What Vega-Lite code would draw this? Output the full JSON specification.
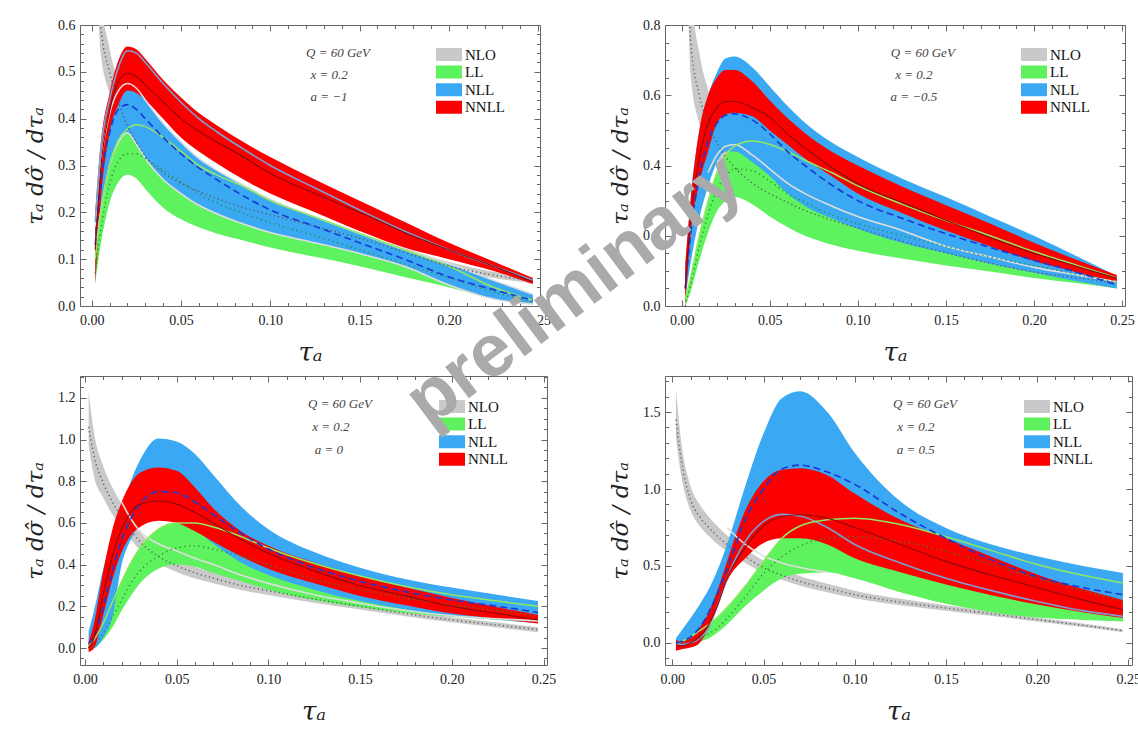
{
"$schema": "https://vega.github.io/schema/vega-lite/v6.json",
"background": "white",
"padding": {"left": 24, "top": 17, "right": 5, "bottom": 5},
"config": {"view": {"stroke": "#666"}, "scale": {"nice": false, "zero": false}, "axis": {"grid": false, "domain": false, "labelFont": "Liberation Serif", "labelFontSize": 14, "labelColor": "#222", "tickColor": "#666", "titleFont": "DejaVu Serif", "titleFontStyle": "italic", "titleFontWeight": "normal", "titleColor": "#222"}},
"datasets": {
"p1": [
{"x":0.002,"nlo":0.9,"nlo_lo":0.8,"nlo_hi":1.0,"ll":0.07,"ll_lo":0.05,"ll_hi":0.1,"nll":0.13,"nll_lo":0.12,"nll_hi":0.17,"nnll":0.12,"nnll_lo":0.045,"nnll_hi":0.2,"g1":0.17,"g2":0.12,"sb":0.18},
{"x":0.005,"nlo":0.6,"nlo_lo":0.54,"nlo_hi":0.67,"ll":0.16,"ll_lo":0.13,"ll_hi":0.2,"nll":0.26,"nll_lo":0.2,"nll_hi":0.3,"nnll":0.29,"nnll_lo":0.22,"nnll_hi":0.345,"g1":0.3,"g2":0.2,"sb":0.33},
{"x":0.01,"nlo":0.5,"nlo_lo":0.455,"nlo_hi":0.55,"ll":0.26,"ll_lo":0.22,"ll_hi":0.3,"nll":0.37,"nll_lo":0.3,"nll_hi":0.41,"nnll":0.415,"nnll_lo":0.37,"nnll_hi":0.455,"g1":0.41,"g2":0.3,"sb":0.44},
{"x":0.015,"nlo":0.435,"nlo_lo":0.4,"nlo_hi":0.475,"ll":0.31,"ll_lo":0.265,"ll_hi":0.355,"nll":0.42,"nll_lo":0.35,"nll_hi":0.46,"nnll":0.48,"nnll_lo":0.43,"nnll_hi":0.525,"g1":0.46,"g2":0.35,"sb":0.51},
{"x":0.02,"nlo":0.385,"nlo_lo":0.355,"nlo_hi":0.415,"ll":0.325,"ll_lo":0.28,"ll_hi":0.378,"nll":0.43,"nll_lo":0.37,"nll_hi":0.475,"nnll":0.497,"nnll_lo":0.46,"nnll_hi":0.554,"g1":0.475,"g2":0.37,"sb":0.545},
{"x":0.025,"nlo":0.35,"nlo_lo":0.325,"nlo_hi":0.378,"ll":0.325,"ll_lo":0.272,"ll_hi":0.387,"nll":0.42,"nll_lo":0.345,"nll_hi":0.465,"nnll":0.49,"nnll_lo":0.455,"nnll_hi":0.548,"g1":0.465,"g2":0.345,"sb":0.54},
{"x":0.03,"nlo":0.32,"nlo_lo":0.3,"nlo_hi":0.345,"ll":0.315,"ll_lo":0.25,"ll_hi":0.383,"nll":0.4,"nll_lo":0.315,"nll_hi":0.44,"nnll":0.472,"nnll_lo":0.44,"nnll_hi":0.528,"g1":0.44,"g2":0.315,"sb":0.52},
{"x":0.04,"nlo":0.285,"nlo_lo":0.268,"nlo_hi":0.305,"ll":0.29,"ll_lo":0.21,"ll_hi":0.36,"nll":0.36,"nll_lo":0.27,"nll_hi":0.39,"nnll":0.436,"nnll_lo":0.4,"nnll_hi":0.483,"g1":0.39,"g2":0.27,"sb":0.475},
{"x":0.05,"nlo":0.262,"nlo_lo":0.248,"nlo_hi":0.28,"ll":0.265,"ll_lo":0.185,"ll_hi":0.33,"nll":0.325,"nll_lo":0.24,"nll_hi":0.35,"nnll":0.4,"nnll_lo":0.36,"nnll_hi":0.445,"g1":0.35,"g2":0.24,"sb":0.435},
{"x":0.06,"nlo":0.245,"nlo_lo":0.232,"nlo_hi":0.26,"ll":0.24,"ll_lo":0.168,"ll_hi":0.3,"nll":0.295,"nll_lo":0.215,"nll_hi":0.315,"nnll":0.373,"nnll_lo":0.33,"nnll_hi":0.412,"g1":0.315,"g2":0.215,"sb":0.4},
{"x":0.07,"nlo":0.23,"nlo_lo":0.218,"nlo_hi":0.244,"ll":0.22,"ll_lo":0.155,"ll_hi":0.28,"nll":0.27,"nll_lo":0.197,"nll_hi":0.29,"nnll":0.35,"nnll_lo":0.305,"nnll_hi":0.386,"g1":0.29,"g2":0.197,"sb":0.372},
{"x":0.085,"nlo":0.21,"nlo_lo":0.2,"nlo_hi":0.222,"ll":0.198,"ll_lo":0.14,"ll_hi":0.255,"nll":0.235,"nll_lo":0.175,"nll_hi":0.258,"nnll":0.318,"nnll_lo":0.27,"nnll_hi":0.35,"g1":0.258,"g2":0.175,"sb":0.335},
{"x":0.1,"nlo":0.195,"nlo_lo":0.186,"nlo_hi":0.206,"ll":0.178,"ll_lo":0.125,"ll_hi":0.225,"nll":0.205,"nll_lo":0.157,"nll_hi":0.228,"nnll":0.283,"nnll_lo":0.24,"nnll_hi":0.318,"g1":0.228,"g2":0.157,"sb":0.3},
{"x":0.125,"nlo":0.17,"nlo_lo":0.162,"nlo_hi":0.18,"ll":0.15,"ll_lo":0.105,"ll_hi":0.19,"nll":0.17,"nll_lo":0.135,"nll_hi":0.19,"nnll":0.24,"nnll_lo":0.2,"nnll_hi":0.27,"g1":0.19,"g2":0.135,"sb":0.252},
{"x":0.15,"nlo":0.145,"nlo_lo":0.138,"nlo_hi":0.154,"ll":0.12,"ll_lo":0.085,"ll_hi":0.155,"nll":0.135,"nll_lo":0.112,"nll_hi":0.155,"nnll":0.2,"nnll_lo":0.16,"nnll_hi":0.225,"g1":0.155,"g2":0.112,"sb":0.205},
{"x":0.175,"nlo":0.115,"nlo_lo":0.108,"nlo_hi":0.124,"ll":0.09,"ll_lo":0.062,"ll_hi":0.12,"nll":0.1,"nll_lo":0.085,"nll_hi":0.12,"nnll":0.157,"nnll_lo":0.125,"nnll_hi":0.18,"g1":0.12,"g2":0.085,"sb":0.16},
{"x":0.2,"nlo":0.085,"nlo_lo":0.078,"nlo_hi":0.094,"ll":0.06,"ll_lo":0.04,"ll_hi":0.085,"nll":0.062,"nll_lo":0.045,"nll_hi":0.09,"nnll":0.12,"nnll_lo":0.1,"nnll_hi":0.135,"g1":0.09,"g2":0.045,"sb":0.12},
{"x":0.225,"nlo":0.066,"nlo_lo":0.06,"nlo_hi":0.073,"ll":0.03,"ll_lo":0.015,"ll_hi":0.04,"nll":0.035,"nll_lo":0.015,"nll_hi":0.055,"nnll":0.085,"nnll_lo":0.075,"nnll_hi":0.095,"g1":0.055,"g2":0.015,"sb":0.085},
{"x":0.247,"nlo":0.054,"nlo_lo":0.048,"nlo_hi":0.061,"ll":0.008,"ll_lo":0.004,"ll_hi":0.012,"nll":0.012,"nll_lo":0.004,"nll_hi":0.025,"nnll":0.052,"nnll_lo":0.047,"nnll_hi":0.06,"g1":0.025,"g2":0.004,"sb":0.055}
],
"p2": [
{"x":0.002,"nlo":1.5,"nlo_lo":1.3,"nlo_hi":1.75,"ll":0.0,"ll_lo":0.0,"ll_hi":0.02,"nll":0.05,"nll_lo":0.02,"nll_hi":0.1,"nnll":0.05,"nnll_lo":0.0,"nnll_hi":0.12},
{"x":0.005,"nlo":0.76,"nlo_lo":0.66,"nlo_hi":0.92,"ll":0.06,"ll_lo":0.04,"ll_hi":0.08,"nll":0.2,"nll_lo":0.12,"nll_hi":0.3,"nnll":0.25,"nnll_lo":0.2,"nnll_hi":0.3},
{"x":0.01,"nlo":0.6,"nlo_lo":0.52,"nlo_hi":0.72,"ll":0.17,"ll_lo":0.13,"ll_hi":0.2,"nll":0.37,"nll_lo":0.25,"nll_hi":0.5,"nnll":0.42,"nnll_lo":0.35,"nnll_hi":0.5},
{"x":0.015,"nlo":0.52,"nlo_lo":0.455,"nlo_hi":0.615,"ll":0.26,"ll_lo":0.21,"ll_hi":0.3,"nll":0.47,"nll_lo":0.34,"nll_hi":0.6,"nnll":0.52,"nnll_lo":0.44,"nnll_hi":0.6,"g1":0.38},
{"x":0.02,"nlo":0.465,"nlo_lo":0.42,"nlo_hi":0.53,"ll":0.33,"ll_lo":0.27,"ll_hi":0.38,"nll":0.52,"nll_lo":0.41,"nll_hi":0.665,"nnll":0.565,"nnll_lo":0.52,"nnll_hi":0.65,"g1":0.43},
{"x":0.025,"nlo":0.425,"nlo_lo":0.39,"nlo_hi":0.47,"ll":0.37,"ll_lo":0.3,"ll_hi":0.43,"nll":0.543,"nll_lo":0.44,"nll_hi":0.705,"nnll":0.582,"nnll_lo":0.545,"nnll_hi":0.672,"g1":0.455},
{"x":0.03,"nlo":0.395,"nlo_lo":0.365,"nlo_hi":0.43,"ll":0.39,"ll_lo":0.31,"ll_hi":0.455,"nll":0.547,"nll_lo":0.44,"nll_hi":0.71,"nnll":0.583,"nnll_lo":0.55,"nnll_hi":0.672,"g1":0.46},
{"x":0.04,"nlo":0.35,"nlo_lo":0.325,"nlo_hi":0.38,"ll":0.385,"ll_lo":0.29,"ll_hi":0.47,"nll":0.53,"nll_lo":0.41,"nll_hi":0.68,"nnll":0.565,"nnll_lo":0.54,"nnll_hi":0.64,"g1":0.43},
{"x":0.05,"nlo":0.32,"nlo_lo":0.3,"nlo_hi":0.345,"ll":0.355,"ll_lo":0.255,"ll_hi":0.46,"nll":0.49,"nll_lo":0.37,"nll_hi":0.625,"nnll":0.537,"nnll_lo":0.5,"nnll_hi":0.585,"g1":0.39},
{"x":0.06,"nlo":0.295,"nlo_lo":0.277,"nlo_hi":0.317,"ll":0.32,"ll_lo":0.225,"ll_hi":0.44,"nll":0.44,"nll_lo":0.32,"nll_hi":0.57,"nnll":0.49,"nnll_lo":0.46,"nnll_hi":0.535,"g1":0.35},
{"x":0.07,"nlo":0.272,"nlo_lo":0.256,"nlo_hi":0.292,"ll":0.295,"ll_lo":0.2,"ll_hi":0.415,"nll":0.4,"nll_lo":0.285,"nll_hi":0.522,"nnll":0.45,"nnll_lo":0.42,"nnll_hi":0.492,"g1":0.32},
{"x":0.085,"nlo":0.245,"nlo_lo":0.231,"nlo_hi":0.262,"ll":0.26,"ll_lo":0.175,"ll_hi":0.38,"nll":0.345,"nll_lo":0.25,"nll_hi":0.466,"nnll":0.395,"nnll_lo":0.37,"nnll_hi":0.44,"g1":0.285},
{"x":0.1,"nlo":0.222,"nlo_lo":0.21,"nlo_hi":0.236,"ll":0.235,"ll_lo":0.157,"ll_hi":0.342,"nll":0.3,"nll_lo":0.22,"nll_hi":0.424,"nnll":0.348,"nnll_lo":0.32,"nnll_hi":0.4,"g1":0.255},
{"x":0.125,"nlo":0.185,"nlo_lo":0.175,"nlo_hi":0.197,"ll":0.2,"ll_lo":0.135,"ll_hi":0.29,"nll":0.25,"nll_lo":0.18,"nll_hi":0.363,"nnll":0.295,"nnll_lo":0.265,"nnll_hi":0.34,"g1":0.215},
{"x":0.15,"nlo":0.152,"nlo_lo":0.143,"nlo_hi":0.162,"ll":0.17,"ll_lo":0.115,"ll_hi":0.243,"nll":0.206,"nll_lo":0.15,"nll_hi":0.31,"nnll":0.244,"nnll_lo":0.215,"nnll_hi":0.287,"g1":0.17},
{"x":0.175,"nlo":0.122,"nlo_lo":0.114,"nlo_hi":0.131,"ll":0.14,"ll_lo":0.098,"ll_hi":0.2,"nll":0.167,"nll_lo":0.12,"nll_hi":0.255,"nnll":0.195,"nnll_lo":0.17,"nnll_hi":0.235,"g1":0.14},
{"x":0.2,"nlo":0.097,"nlo_lo":0.09,"nlo_hi":0.105,"ll":0.115,"ll_lo":0.08,"ll_hi":0.155,"nll":0.13,"nll_lo":0.095,"nll_hi":0.2,"nnll":0.15,"nnll_lo":0.128,"nnll_hi":0.18,"g1":0.11},
{"x":0.225,"nlo":0.08,"nlo_lo":0.073,"nlo_hi":0.087,"ll":0.09,"ll_lo":0.065,"ll_hi":0.115,"nll":0.095,"nll_lo":0.07,"nll_hi":0.14,"nnll":0.112,"nnll_lo":0.095,"nnll_hi":0.13,"g1":0.088},
{"x":0.247,"nlo":0.065,"nlo_lo":0.058,"nlo_hi":0.072,"ll":0.068,"ll_lo":0.05,"ll_hi":0.08,"nll":0.06,"nll_lo":0.05,"nll_hi":0.085,"nnll":0.079,"nnll_lo":0.068,"nnll_hi":0.088,"g1":0.069}
],
"p3": [
{"x":0.002,"nlo":1.06,"nlo_lo":0.97,"nlo_hi":1.23,"ll":0.0,"ll_lo":-0.01,"ll_hi":0.01,"nll":0.02,"nll_lo":0.0,"nll_hi":0.08,"nnll":0.0,"nnll_lo":-0.02,"nnll_hi":0.03},
{"x":0.005,"nlo":0.92,"nlo_lo":0.82,"nlo_hi":1.03,"ll":0.01,"ll_lo":0.0,"ll_hi":0.04,"nll":0.06,"nll_lo":0.0,"nll_hi":0.18,"nnll":0.05,"nnll_lo":0.0,"nnll_hi":0.12},
{"x":0.01,"nlo":0.79,"nlo_lo":0.72,"nlo_hi":0.87,"ll":0.07,"ll_lo":0.04,"ll_hi":0.12,"nll":0.2,"nll_lo":0.05,"nll_hi":0.38,"nnll":0.26,"nnll_lo":0.16,"nnll_hi":0.37},
{"x":0.015,"nlo":0.7,"nlo_lo":0.64,"nlo_hi":0.77,"ll":0.15,"ll_lo":0.1,"ll_hi":0.22,"nll":0.37,"nll_lo":0.15,"nll_hi":0.53,"nnll":0.44,"nnll_lo":0.33,"nnll_hi":0.57},
{"x":0.02,"nlo":0.63,"nlo_lo":0.58,"nlo_hi":0.69,"ll":0.23,"ll_lo":0.18,"ll_hi":0.32,"nll":0.52,"nll_lo":0.4,"nll_hi":0.67,"nnll":0.57,"nnll_lo":0.46,"nnll_hi":0.7,"g1":0.7},
{"x":0.025,"nlo":0.565,"nlo_lo":0.52,"nlo_hi":0.615,"ll":0.31,"ll_lo":0.25,"ll_hi":0.41,"nll":0.62,"nll_lo":0.52,"nll_hi":0.8,"nnll":0.65,"nnll_lo":0.54,"nnll_hi":0.79,"g1":0.62},
{"x":0.03,"nlo":0.51,"nlo_lo":0.47,"nlo_hi":0.555,"ll":0.37,"ll_lo":0.31,"ll_hi":0.48,"nll":0.69,"nll_lo":0.59,"nll_hi":0.9,"nnll":0.69,"nnll_lo":0.58,"nnll_hi":0.84,"g1":0.56},
{"x":0.04,"nlo":0.44,"nlo_lo":0.405,"nlo_hi":0.48,"ll":0.44,"ll_lo":0.38,"ll_hi":0.57,"nll":0.75,"nll_lo":0.63,"nll_hi":1.005,"nnll":0.705,"nnll_lo":0.61,"nnll_hi":0.866,"g1":0.5},
{"x":0.05,"nlo":0.395,"nlo_lo":0.365,"nlo_hi":0.43,"ll":0.48,"ll_lo":0.4,"ll_hi":0.6,"nll":0.745,"nll_lo":0.615,"nll_hi":0.99,"nnll":0.69,"nnll_lo":0.6,"nnll_hi":0.85,"g1":0.465},
{"x":0.06,"nlo":0.36,"nlo_lo":0.333,"nlo_hi":0.39,"ll":0.49,"ll_lo":0.39,"ll_hi":0.6,"nll":0.7,"nll_lo":0.57,"nll_hi":0.93,"nnll":0.65,"nnll_lo":0.56,"nnll_hi":0.77,"g1":0.43},
{"x":0.07,"nlo":0.335,"nlo_lo":0.31,"nlo_hi":0.362,"ll":0.475,"ll_lo":0.36,"ll_hi":0.58,"nll":0.64,"nll_lo":0.5,"nll_hi":0.83,"nnll":0.6,"nnll_lo":0.51,"nnll_hi":0.67,"g1":0.4},
{"x":0.085,"nlo":0.3,"nlo_lo":0.278,"nlo_hi":0.325,"ll":0.44,"ll_lo":0.32,"ll_hi":0.535,"nll":0.55,"nll_lo":0.41,"nll_hi":0.68,"nnll":0.52,"nnll_lo":0.44,"nnll_hi":0.56,"g1":0.35},
{"x":0.1,"nlo":0.275,"nlo_lo":0.254,"nlo_hi":0.297,"ll":0.4,"ll_lo":0.28,"ll_hi":0.48,"nll":0.475,"nll_lo":0.35,"nll_hi":0.57,"nnll":0.455,"nnll_lo":0.38,"nnll_hi":0.49,"g1":0.31},
{"x":0.125,"nlo":0.235,"nlo_lo":0.217,"nlo_hi":0.255,"ll":0.33,"ll_lo":0.23,"ll_hi":0.405,"nll":0.385,"nll_lo":0.28,"nll_hi":0.46,"nnll":0.37,"nnll_lo":0.31,"nnll_hi":0.41,"g1":0.255},
{"x":0.15,"nlo":0.2,"nlo_lo":0.185,"nlo_hi":0.218,"ll":0.28,"ll_lo":0.195,"ll_hi":0.345,"nll":0.32,"nll_lo":0.225,"nll_hi":0.385,"nnll":0.3,"nnll_lo":0.25,"nnll_hi":0.345,"g1":0.215},
{"x":0.175,"nlo":0.165,"nlo_lo":0.152,"nlo_hi":0.18,"ll":0.24,"ll_lo":0.168,"ll_hi":0.295,"nll":0.27,"nll_lo":0.185,"nll_hi":0.33,"nnll":0.25,"nnll_lo":0.205,"nnll_hi":0.29,"g1":0.18},
{"x":0.2,"nlo":0.135,"nlo_lo":0.123,"nlo_hi":0.148,"ll":0.205,"ll_lo":0.15,"ll_hi":0.255,"nll":0.23,"nll_lo":0.155,"nll_hi":0.29,"nnll":0.2,"nnll_lo":0.165,"nnll_hi":0.24,"g1":0.155},
{"x":0.225,"nlo":0.11,"nlo_lo":0.098,"nlo_hi":0.122,"ll":0.18,"ll_lo":0.135,"ll_hi":0.225,"nll":0.2,"nll_lo":0.135,"nll_hi":0.255,"nnll":0.165,"nnll_lo":0.14,"nnll_hi":0.195,"g1":0.14},
{"x":0.247,"nlo":0.088,"nlo_lo":0.075,"nlo_hi":0.1,"ll":0.155,"ll_lo":0.12,"ll_hi":0.2,"nll":0.17,"nll_lo":0.12,"nll_hi":0.225,"nnll":0.135,"nnll_lo":0.118,"nnll_hi":0.16,"g1":0.13}
],
"p4": [
{"x":0.002,"nlo":1.45,"nlo_lo":1.33,"nlo_hi":1.65,"ll":0.0,"ll_lo":0.0,"ll_hi":0.0,"nll":0.0,"nll_lo":-0.01,"nll_hi":0.03,"nnll":-0.02,"nnll_lo":-0.05,"nnll_hi":0.02,"sb":0.0},
{"x":0.005,"nlo":1.18,"nlo_lo":1.08,"nlo_hi":1.3,"ll":0.0,"ll_lo":0.0,"ll_hi":0.01,"nll":0.01,"nll_lo":0.0,"nll_hi":0.08,"nnll":-0.02,"nnll_lo":-0.04,"nnll_hi":0.01,"sb":-0.01},
{"x":0.01,"nlo":0.93,"nlo_lo":0.86,"nlo_hi":1.02,"ll":0.01,"ll_lo":0.0,"ll_hi":0.04,"nll":0.04,"nll_lo":0.02,"nll_hi":0.16,"nnll":0.0,"nnll_lo":-0.03,"nnll_hi":0.03,"sb":0.0},
{"x":0.015,"nlo":0.82,"nlo_lo":0.76,"nlo_hi":0.9,"ll":0.03,"ll_lo":0.01,"ll_hi":0.08,"nll":0.1,"nll_lo":0.06,"nll_hi":0.25,"nnll":0.04,"nnll_lo":0.0,"nnll_hi":0.1,"sb":0.03},
{"x":0.02,"nlo":0.75,"nlo_lo":0.695,"nlo_hi":0.82,"ll":0.06,"ll_lo":0.03,"ll_hi":0.12,"nll":0.2,"nll_lo":0.13,"nll_hi":0.35,"nnll":0.12,"nnll_lo":0.1,"nnll_hi":0.2,"sb":0.1},
{"x":0.025,"nlo":0.69,"nlo_lo":0.64,"nlo_hi":0.755,"ll":0.1,"ll_lo":0.07,"ll_hi":0.17,"nll":0.33,"nll_lo":0.27,"nll_hi":0.48,"nnll":0.25,"nnll_lo":0.25,"nnll_hi":0.35,"sb":0.25},
{"x":0.03,"nlo":0.64,"nlo_lo":0.595,"nlo_hi":0.7,"ll":0.16,"ll_lo":0.12,"ll_hi":0.23,"nll":0.48,"nll_lo":0.42,"nll_hi":0.64,"nnll":0.42,"nnll_lo":0.4,"nnll_hi":0.53,"g1":0.75,"sb":0.42},
{"x":0.04,"nlo":0.56,"nlo_lo":0.52,"nlo_hi":0.61,"ll":0.3,"ll_lo":0.24,"ll_hi":0.37,"nll":0.8,"nll_lo":0.56,"nll_hi":1.02,"nnll":0.62,"nnll_lo":0.55,"nnll_hi":0.86,"g1":0.64,"sb":0.66},
{"x":0.05,"nlo":0.49,"nlo_lo":0.455,"nlo_hi":0.535,"ll":0.45,"ll_lo":0.34,"ll_hi":0.53,"nll":1.0,"nll_lo":0.66,"nll_hi":1.36,"nnll":0.76,"nnll_lo":0.65,"nnll_hi":1.05,"g1":0.565,"sb":0.79},
{"x":0.06,"nlo":0.44,"nlo_lo":0.41,"nlo_hi":0.48,"ll":0.56,"ll_lo":0.42,"ll_hi":0.68,"nll":1.13,"nll_lo":0.69,"nll_hi":1.59,"nnll":0.82,"nnll_lo":0.68,"nnll_hi":1.125,"g1":0.52,"sb":0.835},
{"x":0.07,"nlo":0.4,"nlo_lo":0.372,"nlo_hi":0.435,"ll":0.63,"ll_lo":0.45,"ll_hi":0.76,"nll":1.155,"nll_lo":0.69,"nll_hi":1.635,"nnll":0.833,"nnll_lo":0.68,"nnll_hi":1.135,"g1":0.49,"sb":0.825},
{"x":0.085,"nlo":0.355,"nlo_lo":0.33,"nlo_hi":0.385,"ll":0.68,"ll_lo":0.46,"ll_hi":0.8,"nll":1.11,"nll_lo":0.65,"nll_hi":1.5,"nnll":0.81,"nnll_lo":0.64,"nnll_hi":1.09,"g1":0.46,"sb":0.75},
{"x":0.1,"nlo":0.314,"nlo_lo":0.29,"nlo_hi":0.34,"ll":0.69,"ll_lo":0.42,"ll_hi":0.81,"nll":1.03,"nll_lo":0.57,"nll_hi":1.235,"nnll":0.75,"nnll_lo":0.55,"nnll_hi":0.97,"sb":0.64},
{"x":0.125,"nlo":0.265,"nlo_lo":0.245,"nlo_hi":0.287,"ll":0.66,"ll_lo":0.33,"ll_hi":0.77,"nll":0.84,"nll_lo":0.47,"nll_hi":0.92,"nnll":0.64,"nnll_lo":0.46,"nnll_hi":0.8,"sb":0.52},
{"x":0.15,"nlo":0.227,"nlo_lo":0.21,"nlo_hi":0.245,"ll":0.595,"ll_lo":0.255,"ll_hi":0.69,"nll":0.68,"nll_lo":0.39,"nll_hi":0.747,"nnll":0.53,"nnll_lo":0.38,"nnll_hi":0.68,"sb":0.42},
{"x":0.175,"nlo":0.19,"nlo_lo":0.175,"nlo_hi":0.205,"ll":0.51,"ll_lo":0.2,"ll_hi":0.6,"nll":0.54,"nll_lo":0.33,"nll_hi":0.64,"nnll":0.44,"nnll_lo":0.31,"nnll_hi":0.56,"sb":0.34},
{"x":0.2,"nlo":0.152,"nlo_lo":0.14,"nlo_hi":0.165,"ll":0.42,"ll_lo":0.165,"ll_hi":0.51,"nll":0.43,"nll_lo":0.27,"nll_hi":0.563,"nnll":0.36,"nnll_lo":0.25,"nnll_hi":0.445,"sb":0.27},
{"x":0.225,"nlo":0.115,"nlo_lo":0.104,"nlo_hi":0.126,"ll":0.34,"ll_lo":0.15,"ll_hi":0.44,"nll":0.36,"nll_lo":0.22,"nll_hi":0.5,"nnll":0.28,"nnll_lo":0.2,"nnll_hi":0.35,"sb":0.21},
{"x":0.247,"nlo":0.08,"nlo_lo":0.07,"nlo_hi":0.09,"ll":0.27,"ll_lo":0.14,"ll_hi":0.39,"nll":0.314,"nll_lo":0.19,"nll_hi":0.455,"nnll":0.216,"nnll_lo":0.162,"nnll_hi":0.28,"sb":0.173}
]
},
"columns": 2,
"bounds": "flush",
"align": "each",
"spacing": {"row": 70, "column": 118},
"resolve": {"scale": {"color": "independent"}, "legend": {"color": "independent"}},
"concat": [
  {"width": 460, "height": 281, "data": {"name": "p1"},
   "resolve": {"axis": {"x": "independent", "y": "independent"}},
   "layer": [
    {"layer": [
     {"mark": {"type": "area", "interpolate": "monotone", "clip": true, "opacity": 1},
      "encoding": {"x": {"field": "x", "type": "quantitative", "scale": {"domain": [-0.00655, 0.251], "nice": false}, "axis": {"orient": "bottom", "values": [0, 0.05, 0.1, 0.15, 0.2, 0.25], "format": ".2f", "ticks": false, "labelPadding": 7, "labelFlush": false, "labelOverlap": false, "title": "τₐ", "titleFontSize": 26, "titlePadding": 12}},
       "y": {"field": "nlo_lo", "type": "quantitative", "scale": {"domain": [0, 0.6], "nice": false}, "axis": {"orient": "left", "values": [0, 0.1, 0.2, 0.3, 0.4, 0.5, 0.6], "format": ".1f", "ticks": false, "labelPadding": 5, "labelFlush": false, "labelOverlap": false, "title": "τₐ dσ̂ / dτₐ", "titleFontSize": 23, "titlePadding": 10}},
       "y2": {"field": "nlo_hi"},
       "color": {"datum": "NLO", "type": "nominal", "scale": {"domain": ["NLO", "LL", "NLL", "NNLL"], "range": ["#c9c9c9", "#5ef25e", "#3aa8f2", "#fa0000"]}, "legend": {"title": null, "orient": "none", "legendX": 356, "legendY": 22, "symbolType": "M-1,-0.5H1V0.5H-1Z", "symbolSize": 676, "symbolStrokeWidth": 0, "symbolOpacity": 1, "clipHeight": 15, "rowPadding": 1.6, "labelFont": "Liberation Serif", "labelFontSize": 15, "labelColor": "#111", "labelOffset": 3, "padding": 0}}}},
     {"mark": {"type": "area", "interpolate": "monotone", "clip": true, "opacity": 1}, "encoding": {"x": {"field": "x", "type": "quantitative"}, "y": {"field": "ll_lo", "type": "quantitative"}, "y2": {"field": "ll_hi"}, "color": {"datum": "LL", "type": "nominal"}}},
     {"mark": {"type": "area", "interpolate": "monotone", "clip": true, "opacity": 1}, "encoding": {"x": {"field": "x", "type": "quantitative"}, "y": {"field": "nll_lo", "type": "quantitative"}, "y2": {"field": "nll_hi"}, "color": {"datum": "NLL", "type": "nominal"}}},
     {"mark": {"type": "area", "interpolate": "monotone", "clip": true, "opacity": 1}, "encoding": {"x": {"field": "x", "type": "quantitative"}, "y": {"field": "nnll_lo", "type": "quantitative"}, "y2": {"field": "nnll_hi"}, "color": {"datum": "NNLL", "type": "nominal"}}},
     {"mark": {"type": "line", "interpolate": "monotone", "clip": true, "color": "#dedede", "strokeWidth": 1.6}, "encoding": {"x": {"field": "x", "type": "quantitative"}, "y": {"field": "g1", "type": "quantitative"}}},
     {"mark": {"type": "line", "interpolate": "monotone", "clip": true, "color": "#dedede", "strokeWidth": 1.6}, "encoding": {"x": {"field": "x", "type": "quantitative"}, "y": {"field": "g2", "type": "quantitative"}}},
     {"mark": {"type": "line", "interpolate": "monotone", "clip": true, "color": "#7b9fd4", "strokeWidth": 1.6}, "encoding": {"x": {"field": "x", "type": "quantitative"}, "y": {"field": "sb", "type": "quantitative"}}},
     {"mark": {"type": "line", "interpolate": "monotone", "clip": true, "color": "#8fe860", "strokeWidth": 1.5}, "encoding": {"x": {"field": "x", "type": "quantitative"}, "y": {"field": "ll_hi", "type": "quantitative"}}},
     {"mark": {"type": "line", "interpolate": "monotone", "clip": true, "color": "#5a5a5a", "strokeWidth": 1.4, "strokeDash": [1.2, 3]}, "encoding": {"x": {"field": "x", "type": "quantitative"}, "y": {"field": "nlo", "type": "quantitative"}}},
     {"mark": {"type": "line", "interpolate": "monotone", "clip": true, "color": "#2e8b2e", "strokeWidth": 1.4, "strokeDash": [1.2, 3.5]}, "encoding": {"x": {"field": "x", "type": "quantitative"}, "y": {"field": "ll", "type": "quantitative"}}},
     {"mark": {"type": "line", "interpolate": "monotone", "clip": true, "color": "#1a3ad6", "strokeWidth": 1.6, "strokeDash": [7, 4]}, "encoding": {"x": {"field": "x", "type": "quantitative"}, "y": {"field": "nll", "type": "quantitative"}}},
     {"mark": {"type": "line", "interpolate": "monotone", "clip": true, "color": "#8b0a0a", "strokeWidth": 1.1}, "encoding": {"x": {"field": "x", "type": "quantitative"}, "y": {"field": "nnll", "type": "quantitative"}}},
     {"data": {"values": [{}]}, "mark": {"type": "text", "text": "Q = 60 GeV", "font": "Liberation Serif", "fontStyle": "italic", "fontSize": 13, "color": "#444", "align": "center", "baseline": "middle"}, "encoding": {"x": {"datum": 0.1379}, "y": {"datum": 0.5408}}},
     {"data": {"values": [{}]}, "mark": {"type": "text", "text": "x = 0.2", "font": "Liberation Serif", "fontStyle": "italic", "fontSize": 13, "color": "#444", "align": "center", "baseline": "middle"}, "encoding": {"x": {"datum": 0.1329}, "y": {"datum": 0.4932}}},
     {"data": {"values": [{}]}, "mark": {"type": "text", "text": "a = −1", "font": "Liberation Serif", "fontStyle": "italic", "fontSize": 13, "color": "#444", "align": "center", "baseline": "middle"}, "encoding": {"x": {"datum": 0.1329}, "y": {"datum": 0.4468}}}
    ]},
    {"mark": {"type": "point", "opacity": 0}, "encoding": {"x": {"field": "x", "type": "quantitative", "axis": {"orient": "bottom", "values": [0, 0.05, 0.1, 0.15, 0.2, 0.25], "labels": false, "tickSize": 6, "offset": -6, "title": null}}, "y": {"field": "nnll", "type": "quantitative", "axis": {"orient": "left", "values": [0, 0.1, 0.2, 0.3, 0.4, 0.5, 0.6], "labels": false, "tickSize": 6, "offset": -6, "title": null}}}},
    {"mark": {"type": "point", "opacity": 0}, "encoding": {"x": {"field": "x", "type": "quantitative", "axis": {"orient": "bottom", "values": [0.01, 0.02, 0.03, 0.04, 0.06, 0.07, 0.08, 0.09, 0.11, 0.12, 0.13, 0.14, 0.16, 0.17, 0.18, 0.19, 0.21, 0.22, 0.23, 0.24], "labels": false, "tickSize": 3.5, "offset": -3.5, "title": null}}, "y": {"field": "nnll", "type": "quantitative", "axis": {"orient": "left", "values": [0.02, 0.04, 0.06, 0.08, 0.12, 0.14, 0.16, 0.18, 0.22, 0.24, 0.26, 0.28, 0.32, 0.34, 0.36, 0.38, 0.42, 0.44, 0.46, 0.48, 0.52, 0.54, 0.56, 0.58], "labels": false, "tickSize": 3.5, "offset": -3.5, "title": null}}}},
    {"mark": {"type": "point", "opacity": 0}, "encoding": {"x": {"field": "x", "type": "quantitative", "axis": {"orient": "top", "values": [0, 0.05, 0.1, 0.15, 0.2, 0.25], "labels": false, "tickSize": 6, "offset": -6, "title": null}}, "y": {"field": "nnll", "type": "quantitative", "axis": {"orient": "right", "values": [0, 0.1, 0.2, 0.3, 0.4, 0.5, 0.6], "labels": false, "tickSize": 6, "offset": -6, "title": null}}}},
    {"mark": {"type": "point", "opacity": 0}, "encoding": {"x": {"field": "x", "type": "quantitative", "axis": {"orient": "top", "values": [0.01, 0.02, 0.03, 0.04, 0.06, 0.07, 0.08, 0.09, 0.11, 0.12, 0.13, 0.14, 0.16, 0.17, 0.18, 0.19, 0.21, 0.22, 0.23, 0.24], "labels": false, "tickSize": 3.5, "offset": -3.5, "title": null}}, "y": {"field": "nnll", "type": "quantitative", "axis": {"orient": "right", "values": [0.02, 0.04, 0.06, 0.08, 0.12, 0.14, 0.16, 0.18, 0.22, 0.24, 0.26, 0.28, 0.32, 0.34, 0.36, 0.38, 0.42, 0.44, 0.46, 0.48, 0.52, 0.54, 0.56, 0.58], "labels": false, "tickSize": 3.5, "offset": -3.5, "title": null}}}}
   ]},
  {"width": 460, "height": 281, "data": {"name": "p2"},
   "resolve": {"axis": {"x": "independent", "y": "independent"}},
   "layer": [
    {"layer": [
     {"mark": {"type": "area", "interpolate": "monotone", "clip": true, "opacity": 1},
      "encoding": {"x": {"field": "x", "type": "quantitative", "scale": {"domain": [-0.00948, 0.2517], "nice": false}, "axis": {"orient": "bottom", "values": [0, 0.05, 0.1, 0.15, 0.2, 0.25], "format": ".2f", "ticks": false, "labelPadding": 7, "labelFlush": false, "labelOverlap": false, "title": "τₐ", "titleFontSize": 26, "titlePadding": 12}},
       "y": {"field": "nlo_lo", "type": "quantitative", "scale": {"domain": [0, 0.8], "nice": false}, "axis": {"orient": "left", "values": [0, 0.2, 0.4, 0.6, 0.8], "format": ".1f", "ticks": false, "labelPadding": 5, "labelFlush": false, "labelOverlap": false, "title": "τₐ dσ̂ / dτₐ", "titleFontSize": 23, "titlePadding": 10}},
       "y2": {"field": "nlo_hi"},
       "color": {"datum": "NLO", "type": "nominal", "scale": {"domain": ["NLO", "LL", "NLL", "NNLL"], "range": ["#c9c9c9", "#5ef25e", "#3aa8f2", "#fa0000"]}, "legend": {"title": null, "orient": "none", "legendX": 356, "legendY": 22, "symbolType": "M-1,-0.5H1V0.5H-1Z", "symbolSize": 676, "symbolStrokeWidth": 0, "symbolOpacity": 1, "clipHeight": 15, "rowPadding": 1.6, "labelFont": "Liberation Serif", "labelFontSize": 15, "labelColor": "#111", "labelOffset": 3, "padding": 0}}}},
     {"mark": {"type": "area", "interpolate": "monotone", "clip": true, "opacity": 1}, "encoding": {"x": {"field": "x", "type": "quantitative"}, "y": {"field": "ll_lo", "type": "quantitative"}, "y2": {"field": "ll_hi"}, "color": {"datum": "LL", "type": "nominal"}}},
     {"mark": {"type": "area", "interpolate": "monotone", "clip": true, "opacity": 1}, "encoding": {"x": {"field": "x", "type": "quantitative"}, "y": {"field": "nll_lo", "type": "quantitative"}, "y2": {"field": "nll_hi"}, "color": {"datum": "NLL", "type": "nominal"}}},
     {"mark": {"type": "area", "interpolate": "monotone", "clip": true, "opacity": 1}, "encoding": {"x": {"field": "x", "type": "quantitative"}, "y": {"field": "nnll_lo", "type": "quantitative"}, "y2": {"field": "nnll_hi"}, "color": {"datum": "NNLL", "type": "nominal"}}},
     {"mark": {"type": "line", "interpolate": "monotone", "clip": true, "color": "#dedede", "strokeWidth": 1.6}, "encoding": {"x": {"field": "x", "type": "quantitative"}, "y": {"field": "g1", "type": "quantitative"}}},
     {"mark": {"type": "line", "interpolate": "monotone", "clip": true, "color": "#8fe860", "strokeWidth": 1.5}, "encoding": {"x": {"field": "x", "type": "quantitative"}, "y": {"field": "ll_hi", "type": "quantitative"}}},
     {"mark": {"type": "line", "interpolate": "monotone", "clip": true, "color": "#5a5a5a", "strokeWidth": 1.4, "strokeDash": [1.2, 3]}, "encoding": {"x": {"field": "x", "type": "quantitative"}, "y": {"field": "nlo", "type": "quantitative"}}},
     {"mark": {"type": "line", "interpolate": "monotone", "clip": true, "color": "#2e8b2e", "strokeWidth": 1.4, "strokeDash": [1.2, 3.5]}, "encoding": {"x": {"field": "x", "type": "quantitative"}, "y": {"field": "ll", "type": "quantitative"}}},
     {"mark": {"type": "line", "interpolate": "monotone", "clip": true, "color": "#1a3ad6", "strokeWidth": 1.6, "strokeDash": [7, 4]}, "encoding": {"x": {"field": "x", "type": "quantitative"}, "y": {"field": "nll", "type": "quantitative"}}},
     {"mark": {"type": "line", "interpolate": "monotone", "clip": true, "color": "#8b0a0a", "strokeWidth": 1.1}, "encoding": {"x": {"field": "x", "type": "quantitative"}, "y": {"field": "nnll", "type": "quantitative"}}},
     {"data": {"values": [{}]}, "mark": {"type": "text", "text": "Q = 60 GeV", "font": "Liberation Serif", "fontStyle": "italic", "fontSize": 13, "color": "#444", "align": "center", "baseline": "middle"}, "encoding": {"x": {"datum": 0.1369}, "y": {"datum": 0.7211}}},
     {"data": {"values": [{}]}, "mark": {"type": "text", "text": "x = 0.2", "font": "Liberation Serif", "fontStyle": "italic", "fontSize": 13, "color": "#444", "align": "center", "baseline": "middle"}, "encoding": {"x": {"datum": 0.1318}, "y": {"datum": 0.6577}}},
     {"data": {"values": [{}]}, "mark": {"type": "text", "text": "a = −0.5", "font": "Liberation Serif", "fontStyle": "italic", "fontSize": 13, "color": "#444", "align": "center", "baseline": "middle"}, "encoding": {"x": {"datum": 0.1318}, "y": {"datum": 0.5959}}}
    ]},
    {"mark": {"type": "point", "opacity": 0}, "encoding": {"x": {"field": "x", "type": "quantitative", "axis": {"orient": "bottom", "values": [0, 0.05, 0.1, 0.15, 0.2, 0.25], "labels": false, "tickSize": 6, "offset": -6, "title": null}}, "y": {"field": "nnll", "type": "quantitative", "axis": {"orient": "left", "values": [0, 0.2, 0.4, 0.6, 0.8], "labels": false, "tickSize": 6, "offset": -6, "title": null}}}},
    {"mark": {"type": "point", "opacity": 0}, "encoding": {"x": {"field": "x", "type": "quantitative", "axis": {"orient": "bottom", "values": [0.01, 0.02, 0.03, 0.04, 0.06, 0.07, 0.08, 0.09, 0.11, 0.12, 0.13, 0.14, 0.16, 0.17, 0.18, 0.19, 0.21, 0.22, 0.23, 0.24], "labels": false, "tickSize": 3.5, "offset": -3.5, "title": null}}, "y": {"field": "nnll", "type": "quantitative", "axis": {"orient": "left", "values": [0.05, 0.1, 0.15, 0.25, 0.3, 0.35, 0.45, 0.5, 0.55, 0.65, 0.7, 0.75], "labels": false, "tickSize": 3.5, "offset": -3.5, "title": null}}}},
    {"mark": {"type": "point", "opacity": 0}, "encoding": {"x": {"field": "x", "type": "quantitative", "axis": {"orient": "top", "values": [0, 0.05, 0.1, 0.15, 0.2, 0.25], "labels": false, "tickSize": 6, "offset": -6, "title": null}}, "y": {"field": "nnll", "type": "quantitative", "axis": {"orient": "right", "values": [0, 0.2, 0.4, 0.6, 0.8], "labels": false, "tickSize": 6, "offset": -6, "title": null}}}},
    {"mark": {"type": "point", "opacity": 0}, "encoding": {"x": {"field": "x", "type": "quantitative", "axis": {"orient": "top", "values": [0.01, 0.02, 0.03, 0.04, 0.06, 0.07, 0.08, 0.09, 0.11, 0.12, 0.13, 0.14, 0.16, 0.17, 0.18, 0.19, 0.21, 0.22, 0.23, 0.24], "labels": false, "tickSize": 3.5, "offset": -3.5, "title": null}}, "y": {"field": "nnll", "type": "quantitative", "axis": {"orient": "right", "values": [0.05, 0.1, 0.15, 0.25, 0.3, 0.35, 0.45, 0.5, 0.55, 0.65, 0.7, 0.75], "labels": false, "tickSize": 3.5, "offset": -3.5, "title": null}}}}
   ]},
  {"width": 467, "height": 289, "data": {"name": "p3"},
   "resolve": {"axis": {"x": "independent", "y": "independent"}},
   "layer": [
    {"layer": [
     {"mark": {"type": "area", "interpolate": "monotone", "clip": true, "opacity": 1},
      "encoding": {"x": {"field": "x", "type": "quantitative", "scale": {"domain": [-0.0027, 0.2519], "nice": false}, "axis": {"orient": "bottom", "values": [0, 0.05, 0.1, 0.15, 0.2, 0.25], "format": ".2f", "ticks": false, "labelPadding": 7, "labelFlush": false, "labelOverlap": false, "title": "τₐ", "titleFontSize": 26, "titlePadding": 12}},
       "y": {"field": "nlo_lo", "type": "quantitative", "scale": {"domain": [-0.0815, 1.3046], "nice": false}, "axis": {"orient": "left", "values": [0, 0.2, 0.4, 0.6, 0.8, 1.0, 1.2], "format": ".1f", "ticks": false, "labelPadding": 5, "labelFlush": false, "labelOverlap": false, "title": "τₐ dσ̂ / dτₐ", "titleFontSize": 23, "titlePadding": 10}},
       "y2": {"field": "nlo_hi"},
       "color": {"datum": "NLO", "type": "nominal", "scale": {"domain": ["NLO", "LL", "NLL", "NNLL"], "range": ["#c9c9c9", "#5ef25e", "#3aa8f2", "#fa0000"]}, "legend": {"title": null, "orient": "none", "legendX": 359, "legendY": 23, "symbolType": "M-1,-0.5H1V0.5H-1Z", "symbolSize": 676, "symbolStrokeWidth": 0, "symbolOpacity": 1, "clipHeight": 15, "rowPadding": 1.6, "labelFont": "Liberation Serif", "labelFontSize": 15, "labelColor": "#111", "labelOffset": 3, "padding": 0}}}},
     {"mark": {"type": "area", "interpolate": "monotone", "clip": true, "opacity": 1}, "encoding": {"x": {"field": "x", "type": "quantitative"}, "y": {"field": "ll_lo", "type": "quantitative"}, "y2": {"field": "ll_hi"}, "color": {"datum": "LL", "type": "nominal"}}},
     {"mark": {"type": "area", "interpolate": "monotone", "clip": true, "opacity": 1}, "encoding": {"x": {"field": "x", "type": "quantitative"}, "y": {"field": "nll_lo", "type": "quantitative"}, "y2": {"field": "nll_hi"}, "color": {"datum": "NLL", "type": "nominal"}}},
     {"mark": {"type": "area", "interpolate": "monotone", "clip": true, "opacity": 1}, "encoding": {"x": {"field": "x", "type": "quantitative"}, "y": {"field": "nnll_lo", "type": "quantitative"}, "y2": {"field": "nnll_hi"}, "color": {"datum": "NNLL", "type": "nominal"}}},
     {"mark": {"type": "line", "interpolate": "monotone", "clip": true, "color": "#dedede", "strokeWidth": 1.6}, "encoding": {"x": {"field": "x", "type": "quantitative"}, "y": {"field": "g1", "type": "quantitative"}}},
     {"mark": {"type": "line", "interpolate": "monotone", "clip": true, "color": "#8fe860", "strokeWidth": 1.5}, "encoding": {"x": {"field": "x", "type": "quantitative"}, "y": {"field": "ll_hi", "type": "quantitative"}}},
     {"mark": {"type": "line", "interpolate": "monotone", "clip": true, "color": "#5a5a5a", "strokeWidth": 1.4, "strokeDash": [1.2, 3]}, "encoding": {"x": {"field": "x", "type": "quantitative"}, "y": {"field": "nlo", "type": "quantitative"}}},
     {"mark": {"type": "line", "interpolate": "monotone", "clip": true, "color": "#2e8b2e", "strokeWidth": 1.4, "strokeDash": [1.2, 3.5]}, "encoding": {"x": {"field": "x", "type": "quantitative"}, "y": {"field": "ll", "type": "quantitative"}}},
     {"mark": {"type": "line", "interpolate": "monotone", "clip": true, "color": "#1a3ad6", "strokeWidth": 1.6, "strokeDash": [7, 4]}, "encoding": {"x": {"field": "x", "type": "quantitative"}, "y": {"field": "nll", "type": "quantitative"}}},
     {"mark": {"type": "line", "interpolate": "monotone", "clip": true, "color": "#8b0a0a", "strokeWidth": 1.1}, "encoding": {"x": {"field": "x", "type": "quantitative"}, "y": {"field": "nnll", "type": "quantitative"}}},
     {"data": {"values": [{}]}, "mark": {"type": "text", "text": "Q = 60 GeV", "font": "Liberation Serif", "fontStyle": "italic", "fontSize": 13, "color": "#444", "align": "center", "baseline": "middle"}, "encoding": {"x": {"datum": 0.139}, "y": {"datum": 1.17}}},
     {"data": {"values": [{}]}, "mark": {"type": "text", "text": "x = 0.2", "font": "Liberation Serif", "fontStyle": "italic", "fontSize": 13, "color": "#444", "align": "center", "baseline": "middle"}, "encoding": {"x": {"datum": 0.1341}, "y": {"datum": 1.06}}},
     {"data": {"values": [{}]}, "mark": {"type": "text", "text": "a = 0", "font": "Liberation Serif", "fontStyle": "italic", "fontSize": 13, "color": "#444", "align": "center", "baseline": "middle"}, "encoding": {"x": {"datum": 0.133}, "y": {"datum": 0.95}}}
    ]},
    {"mark": {"type": "point", "opacity": 0}, "encoding": {"x": {"field": "x", "type": "quantitative", "axis": {"orient": "bottom", "values": [0, 0.05, 0.1, 0.15, 0.2, 0.25], "labels": false, "tickSize": 6, "offset": -6, "title": null}}, "y": {"field": "nnll", "type": "quantitative", "axis": {"orient": "left", "values": [0, 0.2, 0.4, 0.6, 0.8, 1.0, 1.2], "labels": false, "tickSize": 6, "offset": -6, "title": null}}}},
    {"mark": {"type": "point", "opacity": 0}, "encoding": {"x": {"field": "x", "type": "quantitative", "axis": {"orient": "bottom", "values": [0.01, 0.02, 0.03, 0.04, 0.06, 0.07, 0.08, 0.09, 0.11, 0.12, 0.13, 0.14, 0.16, 0.17, 0.18, 0.19, 0.21, 0.22, 0.23, 0.24], "labels": false, "tickSize": 3.5, "offset": -3.5, "title": null}}, "y": {"field": "nnll", "type": "quantitative", "axis": {"orient": "left", "values": [-0.05, 0.05, 0.1, 0.15, 0.25, 0.3, 0.35, 0.45, 0.5, 0.55, 0.65, 0.7, 0.75, 0.85, 0.9, 0.95, 1.05, 1.1, 1.15, 1.25, 1.3], "labels": false, "tickSize": 3.5, "offset": -3.5, "title": null}}}},
    {"mark": {"type": "point", "opacity": 0}, "encoding": {"x": {"field": "x", "type": "quantitative", "axis": {"orient": "top", "values": [0, 0.05, 0.1, 0.15, 0.2, 0.25], "labels": false, "tickSize": 6, "offset": -6, "title": null}}, "y": {"field": "nnll", "type": "quantitative", "axis": {"orient": "right", "values": [0, 0.2, 0.4, 0.6, 0.8, 1.0, 1.2], "labels": false, "tickSize": 6, "offset": -6, "title": null}}}},
    {"mark": {"type": "point", "opacity": 0}, "encoding": {"x": {"field": "x", "type": "quantitative", "axis": {"orient": "top", "values": [0.01, 0.02, 0.03, 0.04, 0.06, 0.07, 0.08, 0.09, 0.11, 0.12, 0.13, 0.14, 0.16, 0.17, 0.18, 0.19, 0.21, 0.22, 0.23, 0.24], "labels": false, "tickSize": 3.5, "offset": -3.5, "title": null}}, "y": {"field": "nnll", "type": "quantitative", "axis": {"orient": "right", "values": [-0.05, 0.05, 0.1, 0.15, 0.25, 0.3, 0.35, 0.45, 0.5, 0.55, 0.65, 0.7, 0.75, 0.85, 0.9, 0.95, 1.05, 1.1, 1.15, 1.25, 1.3], "labels": false, "tickSize": 3.5, "offset": -3.5, "title": null}}}}
   ]},
  {"width": 467, "height": 289, "data": {"name": "p4"},
   "resolve": {"axis": {"x": "independent", "y": "independent"}},
   "layer": [
    {"layer": [
     {"mark": {"type": "area", "interpolate": "monotone", "clip": true, "opacity": 1},
      "encoding": {"x": {"field": "x", "type": "quantitative", "scale": {"domain": [-0.004, 0.252], "nice": false}, "axis": {"orient": "bottom", "values": [0, 0.05, 0.1, 0.15, 0.2, 0.25], "format": ".2f", "ticks": false, "labelPadding": 7, "labelFlush": false, "labelOverlap": false, "title": "τₐ", "titleFontSize": 26, "titlePadding": 12}},
       "y": {"field": "nlo_lo", "type": "quantitative", "scale": {"domain": [-0.1429, 1.7338], "nice": false}, "axis": {"orient": "left", "values": [0, 0.5, 1.0, 1.5], "format": ".1f", "ticks": false, "labelPadding": 5, "labelFlush": false, "labelOverlap": false, "title": "τₐ dσ̂ / dτₐ", "titleFontSize": 23, "titlePadding": 10}},
       "y2": {"field": "nlo_hi"},
       "color": {"datum": "NLO", "type": "nominal", "scale": {"domain": ["NLO", "LL", "NLL", "NNLL"], "range": ["#c9c9c9", "#5ef25e", "#3aa8f2", "#fa0000"]}, "legend": {"title": null, "orient": "none", "legendX": 359, "legendY": 23, "symbolType": "M-1,-0.5H1V0.5H-1Z", "symbolSize": 676, "symbolStrokeWidth": 0, "symbolOpacity": 1, "clipHeight": 15, "rowPadding": 1.6, "labelFont": "Liberation Serif", "labelFontSize": 15, "labelColor": "#111", "labelOffset": 3, "padding": 0}}}},
     {"mark": {"type": "area", "interpolate": "monotone", "clip": true, "opacity": 1}, "encoding": {"x": {"field": "x", "type": "quantitative"}, "y": {"field": "ll_lo", "type": "quantitative"}, "y2": {"field": "ll_hi"}, "color": {"datum": "LL", "type": "nominal"}}},
     {"mark": {"type": "area", "interpolate": "monotone", "clip": true, "opacity": 1}, "encoding": {"x": {"field": "x", "type": "quantitative"}, "y": {"field": "nll_lo", "type": "quantitative"}, "y2": {"field": "nll_hi"}, "color": {"datum": "NLL", "type": "nominal"}}},
     {"mark": {"type": "area", "interpolate": "monotone", "clip": true, "opacity": 1}, "encoding": {"x": {"field": "x", "type": "quantitative"}, "y": {"field": "nnll_lo", "type": "quantitative"}, "y2": {"field": "nnll_hi"}, "color": {"datum": "NNLL", "type": "nominal"}}},
     {"mark": {"type": "line", "interpolate": "monotone", "clip": true, "color": "#dedede", "strokeWidth": 1.6}, "encoding": {"x": {"field": "x", "type": "quantitative"}, "y": {"field": "g1", "type": "quantitative"}}},
     {"mark": {"type": "line", "interpolate": "monotone", "clip": true, "color": "#7b9fd4", "strokeWidth": 1.6}, "encoding": {"x": {"field": "x", "type": "quantitative"}, "y": {"field": "sb", "type": "quantitative"}}},
     {"mark": {"type": "line", "interpolate": "monotone", "clip": true, "color": "#8fe860", "strokeWidth": 1.5}, "encoding": {"x": {"field": "x", "type": "quantitative"}, "y": {"field": "ll_hi", "type": "quantitative"}}},
     {"mark": {"type": "line", "interpolate": "monotone", "clip": true, "color": "#5a5a5a", "strokeWidth": 1.4, "strokeDash": [1.2, 3]}, "encoding": {"x": {"field": "x", "type": "quantitative"}, "y": {"field": "nlo", "type": "quantitative"}}},
     {"mark": {"type": "line", "interpolate": "monotone", "clip": true, "color": "#2e8b2e", "strokeWidth": 1.4, "strokeDash": [1.2, 3.5]}, "encoding": {"x": {"field": "x", "type": "quantitative"}, "y": {"field": "ll", "type": "quantitative"}}},
     {"mark": {"type": "line", "interpolate": "monotone", "clip": true, "color": "#1a3ad6", "strokeWidth": 1.6, "strokeDash": [7, 4]}, "encoding": {"x": {"field": "x", "type": "quantitative"}, "y": {"field": "nll", "type": "quantitative"}}},
     {"mark": {"type": "line", "interpolate": "monotone", "clip": true, "color": "#8b0a0a", "strokeWidth": 1.1}, "encoding": {"x": {"field": "x", "type": "quantitative"}, "y": {"field": "nnll", "type": "quantitative"}}},
     {"data": {"values": [{}]}, "mark": {"type": "text", "text": "Q = 60 GeV", "font": "Liberation Serif", "fontStyle": "italic", "fontSize": 13, "color": "#444", "align": "center", "baseline": "middle"}, "encoding": {"x": {"datum": 0.1385}, "y": {"datum": 1.552}}},
     {"data": {"values": [{}]}, "mark": {"type": "text", "text": "x = 0.2", "font": "Liberation Serif", "fontStyle": "italic", "fontSize": 13, "color": "#444", "align": "center", "baseline": "middle"}, "encoding": {"x": {"datum": 0.1335}, "y": {"datum": 1.4026}}},
     {"data": {"values": [{}]}, "mark": {"type": "text", "text": "a = 0.5", "font": "Liberation Serif", "fontStyle": "italic", "fontSize": 13, "color": "#444", "align": "center", "baseline": "middle"}, "encoding": {"x": {"datum": 0.1335}, "y": {"datum": 1.253}}},
     {"data": {"values": [{}]}, "mark": {"type": "text", "text": "preliminary", "font": "Liberation Sans", "fontWeight": "bold", "fontSize": 74, "color": "#aaaaaa", "angle": 323, "align": "center", "baseline": "middle", "clip": false}, "encoding": {"x": {"datum": -0.0535}, "y": {"datum": 2.286}}}
    ]},
    {"mark": {"type": "point", "opacity": 0}, "encoding": {"x": {"field": "x", "type": "quantitative", "axis": {"orient": "bottom", "values": [0, 0.05, 0.1, 0.15, 0.2, 0.25], "labels": false, "tickSize": 6, "offset": -6, "title": null}}, "y": {"field": "nnll", "type": "quantitative", "axis": {"orient": "left", "values": [0, 0.5, 1.0, 1.5], "labels": false, "tickSize": 6, "offset": -6, "title": null}}}},
    {"mark": {"type": "point", "opacity": 0}, "encoding": {"x": {"field": "x", "type": "quantitative", "axis": {"orient": "bottom", "values": [0.01, 0.02, 0.03, 0.04, 0.06, 0.07, 0.08, 0.09, 0.11, 0.12, 0.13, 0.14, 0.16, 0.17, 0.18, 0.19, 0.21, 0.22, 0.23, 0.24], "labels": false, "tickSize": 3.5, "offset": -3.5, "title": null}}, "y": {"field": "nnll", "type": "quantitative", "axis": {"orient": "left", "values": [-0.1, 0.1, 0.2, 0.3, 0.4, 0.6, 0.7, 0.8, 0.9, 1.1, 1.2, 1.3, 1.4, 1.6, 1.7], "labels": false, "tickSize": 3.5, "offset": -3.5, "title": null}}}},
    {"mark": {"type": "point", "opacity": 0}, "encoding": {"x": {"field": "x", "type": "quantitative", "axis": {"orient": "top", "values": [0, 0.05, 0.1, 0.15, 0.2, 0.25], "labels": false, "tickSize": 6, "offset": -6, "title": null}}, "y": {"field": "nnll", "type": "quantitative", "axis": {"orient": "right", "values": [0, 0.5, 1.0, 1.5], "labels": false, "tickSize": 6, "offset": -6, "title": null}}}},
    {"mark": {"type": "point", "opacity": 0}, "encoding": {"x": {"field": "x", "type": "quantitative", "axis": {"orient": "top", "values": [0.01, 0.02, 0.03, 0.04, 0.06, 0.07, 0.08, 0.09, 0.11, 0.12, 0.13, 0.14, 0.16, 0.17, 0.18, 0.19, 0.21, 0.22, 0.23, 0.24], "labels": false, "tickSize": 3.5, "offset": -3.5, "title": null}}, "y": {"field": "nnll", "type": "quantitative", "axis": {"orient": "right", "values": [-0.1, 0.1, 0.2, 0.3, 0.4, 0.6, 0.7, 0.8, 0.9, 1.1, 1.2, 1.3, 1.4, 1.6, 1.7], "labels": false, "tickSize": 3.5, "offset": -3.5, "title": null}}}}
   ]}
]
}
